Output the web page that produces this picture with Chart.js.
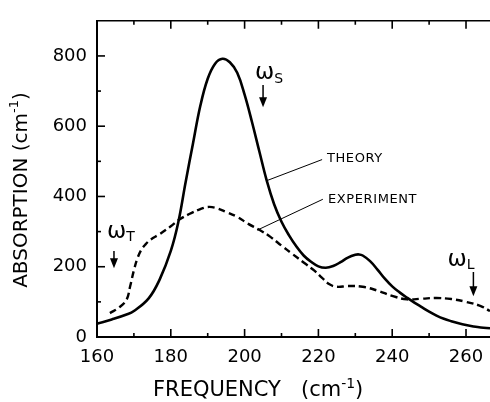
<!DOCTYPE html>
<html>
<head>
<meta charset="utf-8">
<script src="https://cdn.jsdelivr.net/npm/chart.js@4.4.0/dist/chart.umd.min.js"></script>
<style>
  html, body { margin: 0; padding: 0; background: #fff; }
  #wrap { width: 490px; height: 402px; }
</style>
</head>
<body>
<div id="wrap"><canvas id="absChart"></canvas></div>
<script>
// values (frequency in cm-1, absorption in cm-1)
const theoryFreq = [160, 164, 168, 170, 174, 177, 180, 182, 184, 186, 188, 190, 192, 194, 196, 198, 200, 202, 204, 206, 208, 210, 212, 214, 216, 218, 220, 222, 224, 226, 228, 230, 231, 232, 234, 236, 238, 240, 242, 244, 246, 248, 250, 252, 254, 256, 258, 260, 262, 264, 266.5];
const theoryAbs = [38, 50, 64, 74, 110, 164, 245, 325, 440, 550, 658, 735, 778, 792, 782, 752, 690, 612, 528, 445, 378, 328, 290, 258, 232, 214, 201, 197, 202, 213, 226, 234, 235, 232, 216, 192, 166, 144, 127, 112, 98, 85, 72, 61, 52, 45, 39, 34, 30, 27, 25];

const exptFreq = [163.5, 166, 168, 169, 170, 171, 172, 173, 174.5, 177, 180, 182, 185, 188, 190, 192, 195, 198, 201, 204, 207, 210, 213, 216, 219, 221, 223, 225, 228, 232, 236, 240, 244, 248, 252, 256, 260, 264, 266.5];
const exptAbs = [68, 84, 106, 145, 190, 225, 248, 262, 277, 293, 315, 332, 350, 364, 370, 368, 356, 342, 322, 305, 285, 260, 236, 212, 188, 168, 150, 143, 145, 143, 132, 117, 107, 109, 111, 108, 100, 88, 74];

const freqLabels = [160, 180, 200, 220, 240, 260];
const absLabels = [0, 200, 400, 600, 800];

const modeNames = ['T', 'S', 'L'];
const modeFreq = [164.6, 205, 262];

const FONT = '"DejaVu Sans", "Liberation Sans", Arial, sans-serif';

function pts(xs, ys) {
  return xs.map((x, i) => ({ x: x, y: ys[i] }));
}

// draw a run of text pieces (for superscripts / subscripts)
function richText(ctx, x, y, pieces) {
  let cx = x;
  pieces.forEach(p => {
    ctx.font = p.size + 'px ' + FONT;
    ctx.fillText(p.t, cx, y + (p.dy || 0));
    cx += ctx.measureText(p.t).width;
  });
}
function richWidth(ctx, pieces) {
  let w = 0;
  pieces.forEach(p => {
    ctx.font = p.size + 'px ' + FONT;
    w += ctx.measureText(p.t).width;
  });
  return w;
}

const decor = {
  id: 'decor',
  afterDraw(chart) {
    const ctx = chart.ctx;
    const xs = chart.scales.x, ys = chart.scales.y;
    const area = chart.chartArea;
    const X = v => xs.getPixelForValue(v);
    const Y = v => ys.getPixelForValue(v);
    ctx.save();
    ctx.strokeStyle = '#000';
    ctx.fillStyle = '#000';
    ctx.setLineDash([]);

    // inward tick marks
    ctx.lineWidth = 1.6;
    for (let v = Math.ceil(xs.min / 10) * 10; v <= xs.max; v += 10) {
      const len = v % 20 === 0 ? 8 : 4;
      const px = X(v);
      ctx.beginPath();
      ctx.moveTo(px, area.bottom); ctx.lineTo(px, area.bottom - len);
      ctx.moveTo(px, area.top); ctx.lineTo(px, area.top + len);
      ctx.stroke();
    }
    for (let v = 100; v < ys.max; v += 100) {
      const len = v % 200 === 0 ? 8 : 4;
      const py = Y(v);
      ctx.beginPath();
      ctx.moveTo(area.left, py); ctx.lineTo(area.left + len, py);
      ctx.stroke();
    }

    // axis titles
    ctx.textBaseline = 'middle';
    ctx.textAlign = 'left';
    const yTitle = [{ t: 'ABSORPTION (cm', size: 20 }, { t: '-1', size: 13, dy: -7 }, { t: ')', size: 20 }];
    ctx.save();
    ctx.translate(22, 190);
    ctx.rotate(-Math.PI / 2);
    richText(ctx, -richWidth(ctx, yTitle) / 2, 0, yTitle);
    ctx.restore();
    const xTitle = [{ t: 'FREQUENCY   (cm', size: 21 }, { t: '-1', size: 14, dy: -7 }, { t: ')', size: 21 }];
    richText(ctx, 153, 391, xTitle);

    // curve labels with leader lines
    ctx.lineWidth = 1;
    ctx.beginPath();
    ctx.moveTo(X(206), Y(445)); ctx.lineTo(X(221), Y(505));
    ctx.moveTo(X(203.4), Y(304)); ctx.lineTo(X(221.2), Y(392));
    ctx.stroke();
    ctx.font = '13px ' + FONT;
    ctx.letterSpacing = '0.6px';
    ctx.fillText('THEORY', X(222.3), Y(508));
    ctx.fillText('EXPERIMENT', X(222.6), Y(392));
    ctx.letterSpacing = '0px';

    // mode markers: omega label + down arrow
    const labelDx = [-7, -8, -26];
    const labelY = [300, 750, 220];
    const arrowTop = [245, 717, 185];
    const arrowBot = [196, 654, 116];
    modeNames.forEach((n, i) => {
      const ax = X(modeFreq[i]);
      richText(ctx, ax + labelDx[i], Y(labelY[i]), [{ t: '\u03c9', size: 23 }, { t: n, size: 14, dy: 6 }]);
      const y1 = Y(arrowTop[i]), y2 = Y(arrowBot[i]);
      ctx.lineWidth = 1.5;
      ctx.beginPath();
      ctx.moveTo(ax, y1); ctx.lineTo(ax, y2 - 8);
      ctx.stroke();
      ctx.beginPath();
      ctx.moveTo(ax - 4, y2 - 10); ctx.lineTo(ax + 4, y2 - 10); ctx.lineTo(ax, y2);
      ctx.closePath();
      ctx.fill();
    });
    ctx.restore();
  }
};

const ctx = document.getElementById('absChart');
new Chart(ctx, {
  type: 'line',
  data: {
    datasets: [{
      label: 'Theory',
      data: pts(theoryFreq, theoryAbs),
      borderColor: '#000',
      borderWidth: 2.6,
      pointRadius: 0,
      tension: 0.4
    }, {
      label: 'Experiment',
      data: pts(exptFreq, exptAbs),
      borderColor: '#000',
      borderWidth: 2.4,
      borderDash: [7, 4],
      pointRadius: 0,
      tension: 0.4
    }]
  },
  options: {
    responsive: true,
    maintainAspectRatio: false,
    animation: false,
    layout: { padding: { top: 11, right: 0, left: 0, bottom: 0 } },
    plugins: { legend: { display: false }, tooltip: { enabled: false } },
    scales: {
      x: {
        type: 'linear',
        min: 160,
        max: 266.5,
        afterFit: s => { s.height = 65; s.paddingRight = 0; },
        grid: { display: false, drawTicks: false },
        border: { display: true, color: '#000', width: 2 },
        ticks: {
          stepSize: 10,
          includeBounds: false,
          padding: 10,
          color: '#000',
          font: { family: FONT, size: 18 },
          maxRotation: 0,
          autoSkip: false,
          callback: v => freqLabels.includes(v) ? String(v) : ''
        }
      },
      x2: {
        type: 'linear',
        position: 'top',
        min: 160,
        max: 266.5,
        afterFit: s => { s.height = 0; },
        grid: { display: false, drawTicks: false },
        border: { display: true, color: '#000', width: 1.5 },
        ticks: { display: false }
      },
      y: {
        min: 0,
        max: 900,
        afterFit: s => { s.width = 97; },
        grid: { display: false, drawTicks: false },
        border: { display: true, color: '#000', width: 2 },
        ticks: {
          stepSize: 100,
          padding: 10,
          color: '#000',
          font: { family: FONT, size: 18 },
          autoSkip: false,
          callback: v => absLabels.includes(v) ? String(v) : ''
        }
      }
    }
  },
  plugins: [decor]
});
</script>
</body>
</html>
